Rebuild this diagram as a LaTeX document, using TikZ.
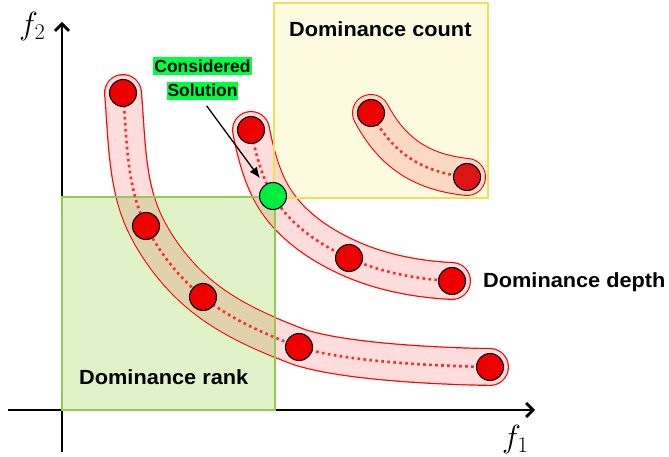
\RequirePackage{fix-cm}
\documentclass[tikz,border=0pt]{standalone}
\usepackage{fontspec}
\newfontfamily\labfont[FakeStretch=1.06]{Liberation Sans}
\newfontfamily\smallfont{Liberation Sans}
\usetikzlibrary{arrows.meta}
\definecolor{rankfill}{HTML}{DFF2C8}
\definecolor{rankline}{HTML}{92CC4E}
\definecolor{countfill}{HTML}{FCFADF}
\definecolor{countline}{HTML}{F0DF5A}
\definecolor{tubepink}{HTML}{FFDDDD}
\definecolor{tubetan}{HTML}{DFD2AD}
\definecolor{tubepeach}{HTML}{FCD9C1}
\definecolor{solred}{HTML}{EE0000}
\definecolor{soldark}{HTML}{DD1515}
\definecolor{solgreen}{HTML}{00EE40}
\definecolor{labgreen}{HTML}{00FF40}
\definecolor{dotred}{HTML}{FF2A2A}
\begin{document}
\begin{tikzpicture}[x=1pt,y=-1pt,
  region/.style={line width=1.1pt},
  axisline/.style={line width=2.8pt,-{Straight Barb[length=7pt,width=14pt]}},
  tubeout/.style={draw=red,line width=38pt,line cap=round,line join=round},
  tubein/.style={draw=tubepink,line width=35.6pt,line cap=round,line join=round},
  dots/.style={draw=dotred,line width=2.6pt,dash pattern=on 2.6pt off 3.4pt},
  sol/.style={circle,draw=black,line width=1.1pt,fill=solred,minimum size=27pt,inner sep=0pt},
  lab/.style={font=\labfont\bfseries\fontsize{20.5}{22}\selectfont,inner sep=0pt,anchor=base west},
  tag/.style={font=\smallfont\bfseries\fontsize{17.5}{19}\selectfont,fill=labgreen,inner sep=0pt,inner xsep=1pt,anchor=base},
  ptr/.style={line width=1.3pt,-{Latex[length=11pt,width=9pt]}},
  axlab/.style={font=\fontsize{32}{34}\selectfont,inner sep=0pt,anchor=base west}]
\useasboundingbox (0,0) rectangle (669,457);
% solution positions
\coordinate (a1) at (123,93);
\coordinate (a2) at (146,226);
\coordinate (a3) at (203,297);
\coordinate (a4) at (299,347);
\coordinate (a5) at (490,367);
\coordinate (b1) at (251,130);
\coordinate (b2) at (273,196);
\coordinate (b3) at (349,258);
\coordinate (b4) at (452,281);
\coordinate (c1) at (371,113);
\coordinate (c2) at (467,177);
\def\frontA{(a1) .. controls (127,138) and (126,186) .. (a2)
  .. controls (159.4,252.8) and (179.6,278.3) .. (a3)
  .. controls (231.1,319.5) and (265.3,334.2) .. (a4)
  .. controls (341.8,361) and (430,366) .. (a5)}
\def\frontB{(b1) .. controls (255.5,152.5) and (261.3,176.2) .. (b2)
  .. controls (289.8,224.4) and (319,244.5) .. (b3)
  .. controls (380.9,272.4) and (417,279.3) .. (b4)}
\def\frontC{(c1) .. controls (392,152) and (420,172) .. (c2)}
\def\rankbox{(62,197) rectangle (275,410)}
\def\countbox{(274,3) rectangle (488,198)}
% regions
\filldraw[region,fill=rankfill,draw=rankline] \rankbox;
\filldraw[region,fill=countfill,draw=countline] \countbox;
% axes
\coordinate (ybot) at (62,452);
\coordinate (ytop) at (62,22);
\coordinate (xl) at (8,410);
\coordinate (xr) at (535,410);
\draw[axisline] (ybot) -- (ytop);
\draw[axisline] (xl) -- (xr);
\node[axlab] (f2) at (19,34.5) {$f_2$};
\node[axlab] (f1) at (502,447.5) {$f_1$};
% tubes
\draw[tubeout] \frontA;
\draw[tubein] \frontA;
\draw[tubeout] \frontB;
\draw[tubein] \frontB;
\draw[tubeout] \frontC;
\draw[tubein] \frontC;
\begin{scope}
\clip \rankbox;
\draw[tubein,draw=tubetan] \frontA;
\draw[tubein,draw=tubetan] \frontB;
\end{scope}
\begin{scope}
\clip \countbox;
\draw[tubein,draw=tubepeach] \frontB;
\draw[tubein,draw=tubepeach] \frontC;
\end{scope}
\draw[region,draw=rankline] \rankbox;
\draw[region,draw=countline] \countbox;
% dotted links
\draw[dots] \frontA;
\draw[dots] \frontB;
\draw[dots] \frontC;
% solutions
\node[sol] (a1n) at (a1) {};
\node[sol] (a2n) at (a2) {};
\node[sol] (a3n) at (a3) {};
\node[sol] (a4n) at (a4) {};
\node[sol] (a5n) at (a5) {};
\node[sol] (b1n) at (b1) {};
\node[sol,fill=solgreen] (b2n) at (b2) {};
\node[sol] (b3n) at (b3) {};
\node[sol] (b4n) at (b4) {};
\node[sol] (c1n) at (c1) {};
\node[sol,fill=soldark] (c2n) at (c2) {};
% labels
\node[lab] (count) at (289,36.7) {Dominance count};
\node[lab] (depth) at (483,287) {Dominance depth};
\node[lab] (rank) at (79,384) {Dominance rank};
\node[tag,text height=16pt,text depth=2.3pt] (considered) at (202.5,72.7) {Considered};
\node[tag,text height=15pt,text depth=3.3pt] (solution) at (202.5,96.7) {Solution};
\draw[ptr,shorten <=7pt,shorten >=8pt] (solution.south) -- (b2n);
\end{tikzpicture}
\end{document}
